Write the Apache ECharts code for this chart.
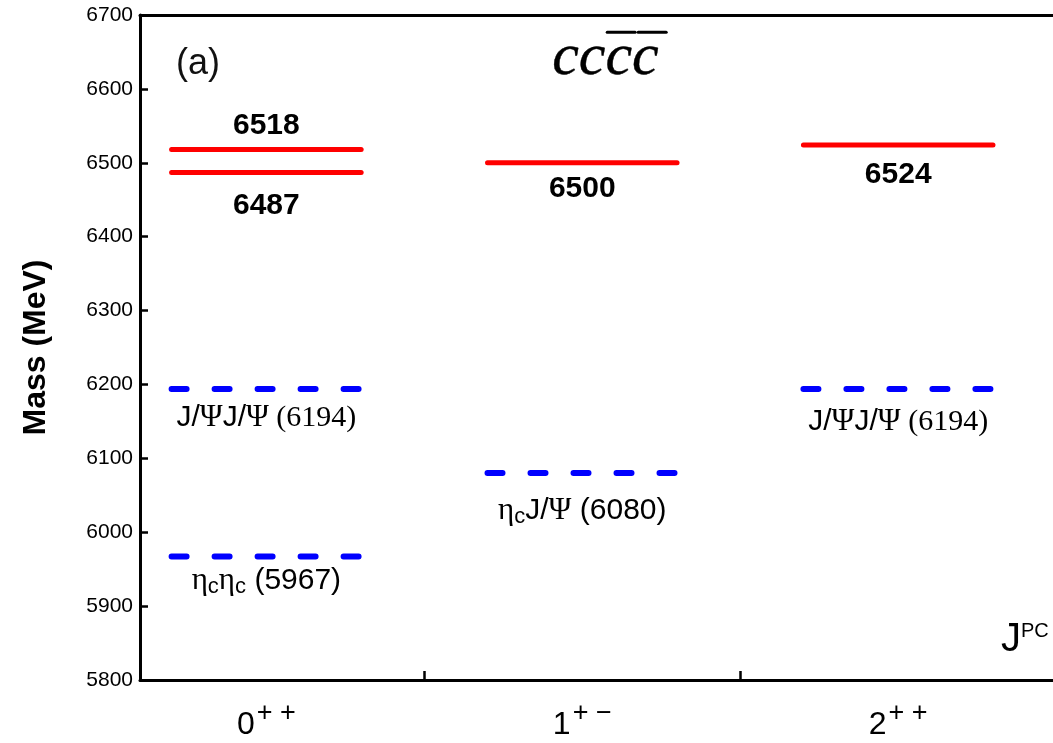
<!DOCTYPE html>
<html>
<head>
<meta charset="utf-8">
<script src="https://cdn.jsdelivr.net/npm/echarts@6/dist/echarts.min.js"></script>
<style>
  html, body { margin: 0; padding: 0; background: #fff; }
  #chart { width: 1053px; height: 743px; }
</style>
</head>
<body>
<div id="chart"></div>
<script>
// J^PC channels along the x axis (spin, then P and C as superscripts)
const spin = ['0', '1', '2'];
const parityC = ['+ +', '+ \u2212', '+ +'];

// cc c̄c̄ tetraquark masses (MeV), one entry per level; J index 1..3
const stateJ = [1, 1, 2, 3];
const stateMass = [6518, 6487, 6500, 6524];

// two-meson thresholds (MeV)
const thrJ = [1, 1, 2, 3];
const thrMass = [6194, 5967, 6080, 6194];
const thrName = ['J/\u03a8J/\u03a8', '\u03b7_c\u03b7_c', '\u03b7_cJ/\u03a8', 'J/\u03a8J/\u03a8'];

// y ticks
const massMin = 5800, massMax = 6700, massStep = 100;

// label placement for each level (pixels from the line) and number typeface
const stateLabelDy = [-24, 33, 26, 30];
const thrLabelDy = [29, 24, 38, 33];
const thrNumSerif = [true, false, false, true];

const HALF = 0.3;           // half length of a level, in J units
const SANS = 'Liberation Sans, Arial, sans-serif';
const SERIF = 'Liberation Serif, Times New Roman, serif';

const chart = echarts.init(document.getElementById('chart'));

// split a meson name into rich-text runs: Greek letters in serif, c subscripts
function thresholdRich(name, mass, serifNum) {
  let out = '';
  let i = 0;
  while (i < name.length) {
    const ch = name[i];
    if (ch === '\u03b7') { out += '{g|\u03b7}'; i++; }
    else if (ch === '\u03a8') { out += '{g|\u03a8}'; i++; }
    else if (ch === '_') { out += '{sub|' + name[i + 1] + '}'; i += 2; }
    else {
      let j = i;
      while (j < name.length && !'\u03b7\u03a8_'.includes(name[j])) j++;
      out += '{t|' + name.slice(i, j) + '}';
      i = j;
    }
  }
  out += (serifNum ? '{ns|' : '{nt|') + ' (' + mass + ')}';
  return out;
}

const thrRich = {
  t: { fontFamily: SANS, fontSize: 30, lineHeight: 34, fill: '#000' },
  g: { fontFamily: SERIF, fontSize: 31, lineHeight: 34, fill: '#000' },
  sub: { fontFamily: SANS, fontSize: 22, lineHeight: 34, padding: [12, 0, 0, 0], fill: '#000' },
  ns: { fontFamily: SERIF, fontSize: 30, lineHeight: 34, fill: '#000' },
  nt: { fontFamily: SANS, fontSize: 30, lineHeight: 34, fill: '#000' }
};

const stateData = stateMass.map((m, i) => [stateJ[i], m, stateLabelDy[i]]);
const thrData = thrMass.map((m, i) => [thrJ[i], m, thrLabelDy[i], i]);

function levelRenderer(kind) {
  return function (params, api) {
    const j = api.value(0), m = api.value(1), dy = api.value(2);
    const a = api.coord([j - HALF, m]);
    const b = api.coord([j + HALF, m]);
    const cx = (a[0] + b[0]) / 2;
    let line, text;
    if (kind === 'state') {
      line = { stroke: '#ff0000', lineWidth: 5, lineCap: 'round' };
      text = {
        text: String(m),
        font: 'bold 30px ' + SANS,
        fill: '#000',
        align: 'center',
        verticalAlign: 'middle'
      };
    } else {
      const k = api.value(3);
      line = { stroke: '#0000ff', lineWidth: 6, lineCap: 'round', lineDash: [15, 28] };
      text = {
        text: thresholdRich(thrName[k], m, thrNumSerif[k]),
        rich: thrRich,
        fill: '#000',
        align: 'center',
        verticalAlign: 'middle'
      };
    }
    return {
      type: 'group',
      children: [
        { type: 'line', shape: { x1: a[0], y1: a[1], x2: b[0], y2: b[1] }, style: line },
        { type: 'text', x: cx, y: a[1] + dy, style: text }
      ]
    };
  };
}

const option = {
  animation: false,
  backgroundColor: '#fff',
  grid: { left: 140, right: 0, top: 15, bottom: 63, outerBoundsMode: 'none', containLabel: false },
  xAxis: [
    {
      type: 'value',
      min: 0.6,
      max: 3.49,
      splitLine: { show: false },
      axisLine: { show: true, onZero: false, lineStyle: { color: '#000', width: 3 } },
      axisTick: { show: true, inside: true, length: 9, customValues: [1.5, 2.5],
                  lineStyle: { color: '#000', width: 2.5 } },
      axisLabel: {
        customValues: [1, 2, 3],
        margin: 23,
        formatter: v => '{n|' + spin[Math.round(v) - 1] + '}{s|' + parityC[Math.round(v) - 1] + '}',
        rich: {
          n: { fontFamily: SANS, fontSize: 32, lineHeight: 44, color: '#000' },
          s: { fontFamily: SANS, fontSize: 27, lineHeight: 44, color: '#000', padding: [0, 0, 22, 2] }
        }
      }
    },
    {
      type: 'value',
      position: 'top',
      min: 0.6,
      max: 3.49,
      splitLine: { show: false },
      axisLine: { show: true, onZero: false, lineStyle: { color: '#000', width: 3 } },
      axisTick: { show: false },
      axisLabel: { show: false }
    }
  ],
  yAxis: {
    type: 'value',
    min: massMin,
    max: massMax,
    interval: massStep,
    name: 'Mass (MeV)',
    nameLocation: 'middle',
    nameGap: 88,
    nameTextStyle: { fontFamily: SANS, fontWeight: 'bold', fontSize: 32, color: '#000' },
    splitLine: { show: false },
    axisLine: { show: true, onZero: false, lineStyle: { color: '#000', width: 3 } },
    axisTick: { show: true, inside: true, length: 8, lineStyle: { color: '#000', width: 2.5 } },
    axisLabel: { fontFamily: SANS, fontSize: 21, color: '#000', margin: 7, formatter: v => String(v) }
  },
  graphic: [
    {
      type: 'text', left: 176, top: 46,
      style: { text: '(a)', font: '36px ' + SANS, fill: '#111' }
    },
    {
      type: 'group', left: 552, top: 28,
      children: [
        { type: 'text', x: 0, y: 0,
          style: { text: 'cccc', font: 'italic 60px ' + SERIF, fill: '#000', stroke: '#000', lineWidth: 0.4 } },
        { type: 'line', shape: { x1: 55, y1: 4, x2: 83, y2: 4 },
          style: { stroke: '#000', lineWidth: 3, lineCap: 'round' } },
        { type: 'line', shape: { x1: 86, y1: 4, x2: 114, y2: 4 },
          style: { stroke: '#000', lineWidth: 3, lineCap: 'round' } }
      ]
    },
    {
      type: 'text', left: 1001, top: 620,
      style: {
        text: '{j|J}{pc|PC}',
        rich: {
          j: { fontFamily: SANS, fontSize: 40, lineHeight: 46, fill: '#000' },
          pc: { fontFamily: SANS, fontSize: 20, lineHeight: 46, fill: '#000', padding: [0, 0, 18, 0] }
        }
      }
    }
  ],
  series: [
    {
      type: 'custom',
      name: 'tetraquark',
      renderItem: levelRenderer('state'),
      data: stateData,
      encode: { x: 0, y: 1 },
      clip: false
    },
    {
      type: 'custom',
      name: 'threshold',
      renderItem: levelRenderer('threshold'),
      data: thrData,
      encode: { x: 0, y: 1 },
      clip: false
    }
  ]
};

chart.setOption(option);
</script>
</body>
</html>
